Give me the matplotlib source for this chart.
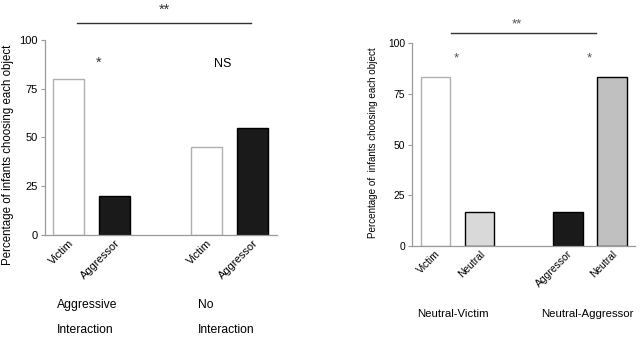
import matplotlib
matplotlib.use('Agg')
import matplotlib.pyplot as plt

plt.rcParams['font.family'] = ['Liberation Sans', 'DejaVu Sans']

# left panel
left_labels = ['Victim', 'Aggressor', 'Victim', 'Aggressor']
left_values = [80, 20, 45, 55]
left_pos = [0, 1, 3, 4]
left_colors = ['white', '#1a1a1a', 'white', '#1a1a1a']
left_edges = ['#b0b0b0', 'black', '#b0b0b0', 'black']

# right panel
right_labels = ['Victim', 'Neutral', 'Aggressor', 'Neutral']
right_values = [83.3, 16.7, 16.7, 83.3]
right_pos = [0, 1, 3, 4]
right_colors = ['white', '#d9d9d9', '#1a1a1a', '#c0c0c0']
right_edges = ['#b0b0b0', 'black', 'black', 'black']

yticks = [0, 25, 50, 75, 100]
ylabel = 'Percentage of infants choosing each object'

fig = plt.figure(figsize=(6.4, 3.45), dpi=100)
ax1 = fig.add_axes([0.0703, 0.319, 0.3625, 0.565])
ax2 = fig.add_axes([0.644, 0.287, 0.348, 0.588])


def style(ax, fs):
    for s in ['top', 'right']:
        ax.spines[s].set_visible(False)
    for s in ['left', 'bottom']:
        ax.spines[s].set_color('#9a9a9a')
        ax.spines[s].set_linewidth(0.9)
    ax.set_ylim(0, 100)
    ax.set_yticks(yticks)
    ax.tick_params(axis='y', length=3, color='#9a9a9a', labelsize=fs, pad=2)
    ax.tick_params(axis='x', length=0, labelsize=fs, pad=2)


ax1.bar(left_pos, left_values, width=0.67, color=left_colors,
        edgecolor=left_edges, linewidth=1.0)
style(ax1, 8)
ax1.set_xlim(-0.51, 4.53)
ax1.set_xticks(left_pos)
ax1.set_xticklabels(left_labels, rotation=45, ha='right', rotation_mode='anchor')

ax1.plot([0.18, 3.97], [108.7, 108.7], color='#333333', lw=1.0, clip_on=False)
ax1.text(2.08, 115.5, '**', ha='center', va='center', fontsize=10.5, color='#333333')
ax1.text(0.66, 88.5, '*', ha='center', va='center', fontsize=10.5, color='#333333')
ax1.text(3.36, 87.7, 'NS', ha='center', va='center', fontsize=9)

ax2.bar(right_pos, right_values, width=0.68, color=right_colors,
        edgecolor=right_edges, linewidth=1.0)
style(ax2, 7.4)
ax2.set_xlim(-0.53, 4.53)
ax2.set_xticks(right_pos)
ax2.set_xticklabels(right_labels, rotation=45, ha='right', rotation_mode='anchor')

ax2.plot([0.35, 3.65], [104.9, 104.9], color='#333333', lw=1.0, clip_on=False)
ax2.text(1.85, 109, '**', ha='center', va='center', fontsize=9.5, color='#555555')
ax2.text(0.47, 92.5, '*', ha='center', va='center', fontsize=9.5, color='#555555')
ax2.text(3.49, 92.5, '*', ha='center', va='center', fontsize=9.5, color='#555555')

# y labels
fig.text(8 / 640, 1 - 155 / 345, ylabel, rotation=90, ha='center', va='center', fontsize=8.3)
fig.text(373 / 640, 1 - 143 / 345, 'Percentage of  infants choosing each object',
         rotation=90, ha='center', va='center', fontsize=7.1)

# group labels
fig.text(57 / 640, 1 - 305 / 345, 'Aggressive', ha='left', va='center', fontsize=8.7)
fig.text(57 / 640, 1 - 330 / 345, 'Interaction', ha='left', va='center', fontsize=8.7)
fig.text(198 / 640, 1 - 305 / 345, 'No', ha='left', va='center', fontsize=8.7)
fig.text(198 / 640, 1 - 330 / 345, 'Interaction', ha='left', va='center', fontsize=8.7)
fig.text(453 / 640, 1 - 314 / 345, 'Neutral-Victim', ha='center', va='center', fontsize=8.2)
fig.text(587 / 640, 1 - 314 / 345, 'Neutral-Aggressor', ha='center', va='center', fontsize=8.2)

fig.savefig('out.png', dpi=100)
